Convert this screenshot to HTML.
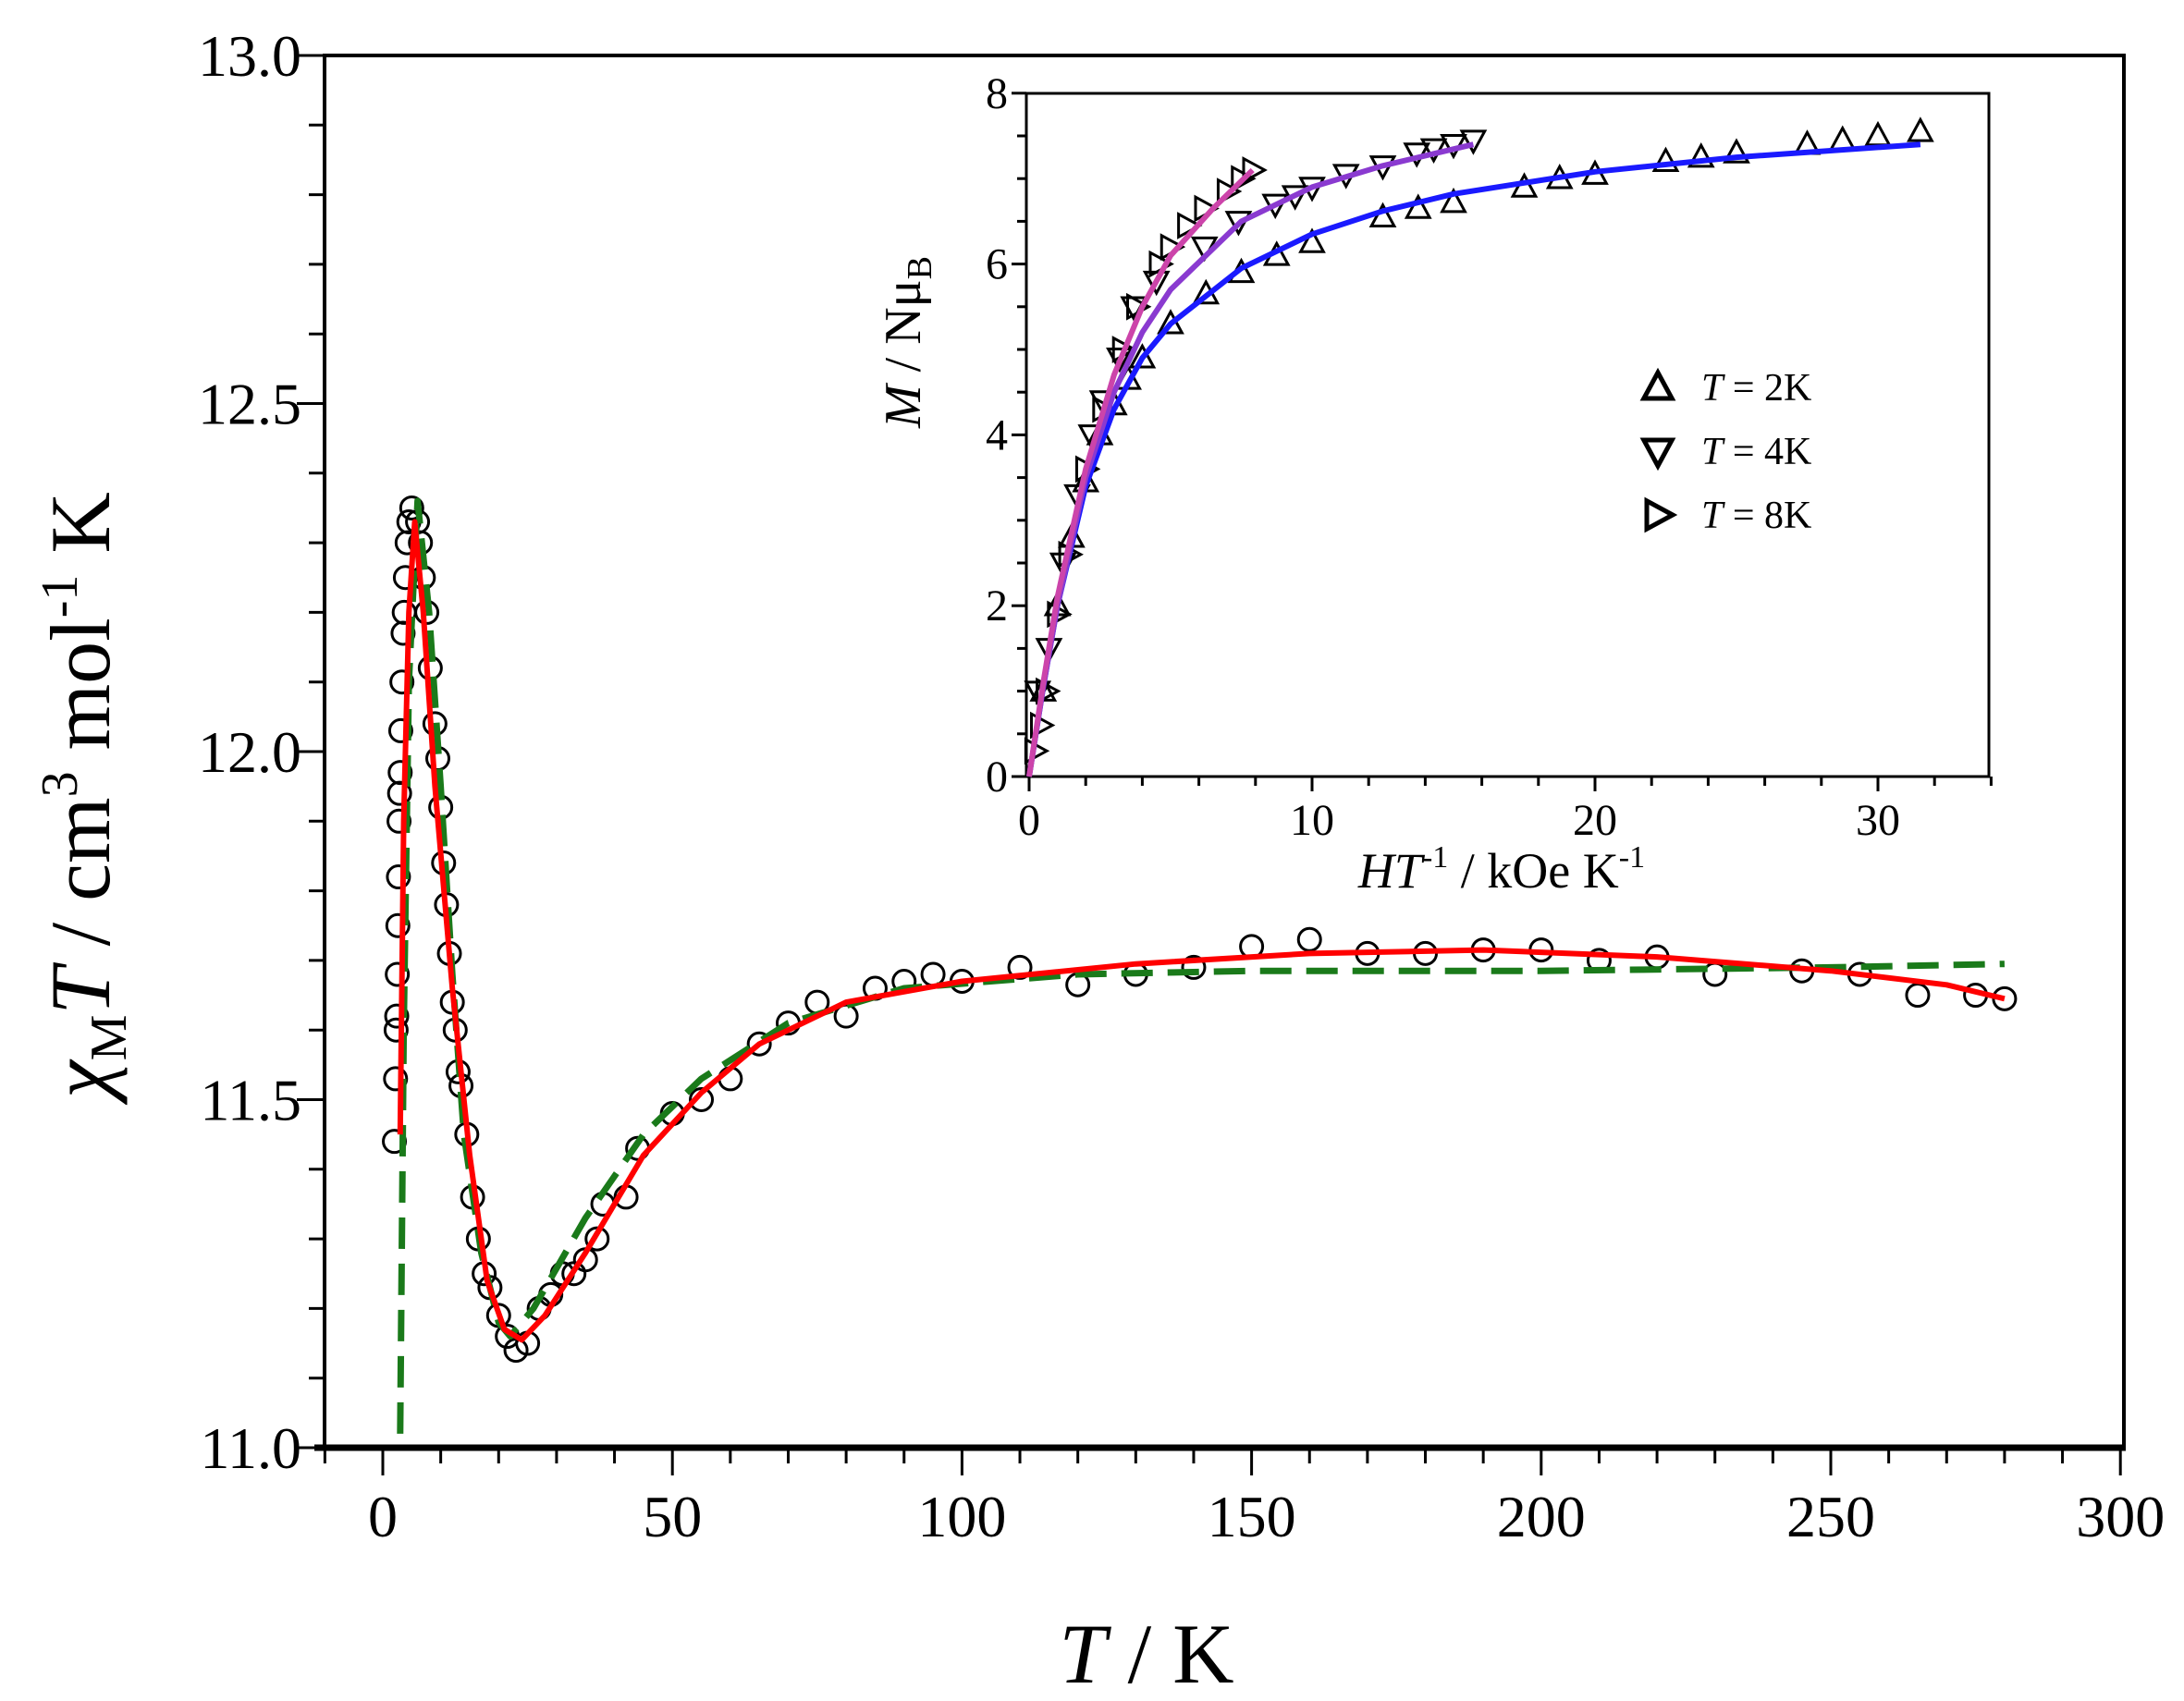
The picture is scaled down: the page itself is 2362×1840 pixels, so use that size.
<!DOCTYPE html>
<html><head><meta charset="utf-8"><style>
html,body{margin:0;padding:0;background:#fff}
svg{display:block}
text{font-family:"Liberation Serif",serif;fill:#000}
</style></head><body>
<svg id="s" width="2362" height="1840" viewBox="0 0 2362 1840" xmlns="http://www.w3.org/2000/svg">
<g id="g"></g>
<text x="1240" y="1820" font-size="92" text-anchor="middle" font-style="italic">T<tspan font-style="normal"> / K</tspan></text>
<g transform="translate(118,860) rotate(-90)">
<text x="0" y="0" font-size="92" text-anchor="middle"><tspan font-style="italic">χ</tspan><tspan font-size="56" dy="18">M</tspan><tspan font-style="italic" dy="-18">T</tspan>  / cm<tspan font-size="56" dy="-35">3</tspan><tspan dy="35"> mol</tspan><tspan font-size="56" dy="-35">-1</tspan><tspan dy="35"> K</tspan></text>
</g>
<text x="1624" y="960" font-size="54" text-anchor="middle"><tspan font-style="italic">HT</tspan><tspan font-size="34" dy="-22">-1</tspan><tspan dy="22"> / kOe K</tspan><tspan font-size="34" dy="-22">-1</tspan></text>
<g transform="translate(995,370) rotate(-90)">
<text x="0" y="0" font-size="56" text-anchor="middle"><tspan font-style="italic">M</tspan> / Nμ<tspan font-size="38" dy="12">B</tspan></text>
</g>
<text x="1840" y="433" font-size="42"><tspan font-style="italic">T</tspan> = 2K</text>
<text x="1840" y="502" font-size="42"><tspan font-style="italic">T</tspan> = 4K</text>
<text x="1840" y="571" font-size="42"><tspan font-style="italic">T</tspan> = 8K</text>
</svg>
<script>
const NS="http://www.w3.org/2000/svg",g=document.getElementById('g');
function el(t,a,txt){const e=document.createElementNS(NS,t);for(const k in a)e.setAttribute(k,a[k]);if(txt!==undefined)e.textContent=txt;g.appendChild(e);return e;}
const X=T=>414+T*6.264, Y=V=>60+(13-V)*753;
el('rect',{x:351,y:60,width:1946,height:1506,fill:'none',stroke:'#000','stroke-width':4});
el('line',{x1:340,y1:1566,x2:2299,y2:1566,stroke:'#000','stroke-width':7});
for(let t=-10;t<=300;t+=10){const m=t%50==0;el('line',{x1:X(t),y1:1566,x2:X(t),y2:1566+(m?30:17),stroke:'#000','stroke-width':3});
 if(m)el('text',{x:X(t),y:1662,'font-size':64,'text-anchor':'middle'},String(t));}
for(let i=0;i<=20;i++){const v=11+i*0.1,m=i%5==0;el('line',{x1:351,y1:Y(v),x2:351-(m?30:17),y2:Y(v),stroke:'#000','stroke-width':3});
 if(m)el('text',{x:326,y:Y(v)+22,'font-size':64,'text-anchor':'end'},v.toFixed(1));}
function smooth(pts,f,c,w,extra){let d='';pts.forEach((p,i)=>{d+=(i?'L':'M')+f[0](p[0]).toFixed(1)+' '+f[1](p[1]).toFixed(1)});const a={d:d,fill:'none',stroke:c,'stroke-width':w,'stroke-linejoin':'round'};Object.assign(a,extra||{});el('path',a);}
const dat=[[2,11.44],[2.2,11.53],[2.3,11.6],[2.4,11.62],[2.5,11.68],[2.6,11.75],[2.7,11.82],[2.8,11.9],[2.9,11.94],[3,11.97],[3.1,12.03],[3.3,12.1],[3.5,12.17],[3.7,12.2],[3.9,12.25],[4.2,12.3],[4.5,12.33],[5,12.35],[6,12.33],[6.5,12.3],[7,12.25],[7.6,12.2],[8.2,12.12],[9,12.04],[9.5,11.99],[10,11.92],[10.5,11.84],[11,11.78],[11.5,11.71],[12,11.64],[12.5,11.6],[13,11.54],[13.5,11.52],[14.5,11.45],[15.5,11.36],[16.5,11.3],[17.5,11.25],[18.5,11.23],[20,11.19],[21.5,11.16],[23,11.14],[25,11.15],[27,11.2],[29,11.22],[31,11.25],[33,11.25],[35,11.27],[37,11.3],[38,11.35],[42,11.36],[44,11.43],[50,11.48],[55,11.5],[60,11.53],[65,11.58],[70,11.61],[75,11.64],[80,11.62],[85,11.66],[90,11.67],[95,11.68],[100,11.67],[110,11.69],[120,11.665],[130,11.68],[140,11.69],[150,11.72],[160,11.73],[170,11.71],[180,11.71],[190,11.715],[200,11.715],[210,11.70],[220,11.705],[230,11.68],[245,11.685],[255,11.68],[265,11.65],[275,11.65],[280,11.645]];
dat.forEach(p=>el('circle',{cx:X(p[0]),cy:Y(p[1]),r:12,fill:'none',stroke:'#000','stroke-width':3}));
smooth([[3,11.02],[3.6,11.6],[4.5,12.1],[6,12.36],[8,12.2],[10,11.95],[12,11.68],[14,11.45],[17,11.28],[20,11.18],[22,11.16],[26,11.2],[35,11.33],[45,11.45],[55,11.53],[70,11.61],[90,11.66],[120,11.68],[150,11.685],[200,11.685],[250,11.69],[280,11.695]],[X,Y],'#1a7a1a',7,{'stroke-dasharray':'34 16'});
smooth([[3,11.45],[3.6,11.9],[4.5,12.2],[5.5,12.33],[7,12.2],[9,11.95],[12,11.66],[15,11.42],[18,11.24],[21,11.17],[24,11.155],[28,11.19],[35,11.28],[45,11.42],[55,11.51],[65,11.58],[80,11.64],[100,11.67],[130,11.695],[160,11.71],[190,11.715],[220,11.705],[250,11.685],[270,11.665],[280,11.645]],[X,Y],'#f00',6);
const IX=v=>1113+v*30.6, IY=v=>840-v*92.4;
el('rect',{x:1110,y:101,width:1041,height:739,fill:'#fff',stroke:'#000','stroke-width':3});
for(let v=0;v<=34;v+=2){const m=v%10==0;el('line',{x1:IX(v),y1:840,x2:IX(v),y2:840+(m?16:10),stroke:'#000','stroke-width':3});if(m)el('text',{x:IX(v),y:903,'font-size':48,'text-anchor':'middle'},String(v));}
for(let v=0;v<=8;v+=0.5){const m=v%2==0;el('line',{x1:1110,y1:IY(v),x2:1110-(m?16:10),y2:IY(v),stroke:'#000','stroke-width':3});if(m)el('text',{x:1090,y:IY(v)+16,'font-size':48,'text-anchor':'end'},String(v));}
function tri(x,y,dir,s,w){let p;if(dir=='u')p=[[x,y-s],[x-s*0.95,y+s*0.75],[x+s*0.95,y+s*0.75]];else if(dir=='d')p=[[x,y+s],[x-s*0.95,y-s*0.75],[x+s*0.95,y-s*0.75]];else p=[[x+s,y],[x-s*0.75,y-s*0.95],[x-s*0.75,y+s*0.95]];el('polygon',{points:p.map(q=>q.join(',')).join(' '),fill:'none',stroke:'#000','stroke-width':w||3,'stroke-linejoin':'miter'});}
const t2=[[0.5,1.0],[1,2.0],[1.5,2.8],[2,3.45],[2.5,4.0],[3,4.35],[3.5,4.65],[4,4.9],[5,5.3],[6.25,5.65],[7.5,5.9],[8.75,6.1],[10,6.25],[12.5,6.55],[13.75,6.65],[15,6.72],[17.5,6.9],[18.75,7.0],[20,7.05],[22.5,7.2],[23.75,7.25],[25,7.3],[27.5,7.4],[28.75,7.45],[30,7.5],[31.5,7.55]];
const t4=[[0.3,1],[0.7,1.5],[1.2,2.5],[1.7,3.3],[2.2,4.0],[2.6,4.4],[3.2,4.9],[3.7,5.5],[4.5,5.8],[6.2,6.2],[7.4,6.5],[8.7,6.7],[9.4,6.8],[10,6.9],[11.2,7.05],[12.5,7.15],[13.7,7.3],[14.3,7.35],[15,7.4],[15.7,7.45]];
const t8=[[0.2,0.3],[0.4,0.6],[0.6,1.0],[1,1.9],[1.4,2.6],[2,3.6],[2.6,4.3],[3.3,5.0],[3.8,5.5],[4.6,6.0],[5,6.2],[5.6,6.45],[6.2,6.65],[7,6.85],[7.5,7.0],[7.9,7.1]];
t2.forEach(p=>tri(IX(p[0]),IY(p[1]),'u',13));
t4.forEach(p=>tri(IX(p[0]),IY(p[1]),'d',13));
t8.forEach(p=>tri(IX(p[0]),IY(p[1]),'r',13));
smooth([[0,0],[0.5,1.05],[1,2],[2,3.4],[3,4.3],[4,4.9],[5,5.3],[7.5,5.95],[10,6.35],[12.5,6.62],[15,6.82],[20,7.08],[25,7.25],[31.5,7.4]],[IX,IY],'#1a1aff',6);
smooth([[0,0],[0.5,1.05],[1,2],[2,3.5],[3,4.5],[4,5.2],[5,5.7],[7.5,6.5],[10,6.9],[12.5,7.15],[15.7,7.4]],[IX,IY],'#8a3ad0',6);
smooth([[0,0],[0.5,1.1],[1,2.1],[2,3.6],[3,4.7],[4,5.5],[5,6.1],[6.5,6.65],[7.9,7.1]],[IX,IY],'#cc44aa',6);
tri(1793,419,'u',16,5);tri(1793,488,'d',16,5);tri(1793,557,'r',16,5);
</script>
</body></html>
